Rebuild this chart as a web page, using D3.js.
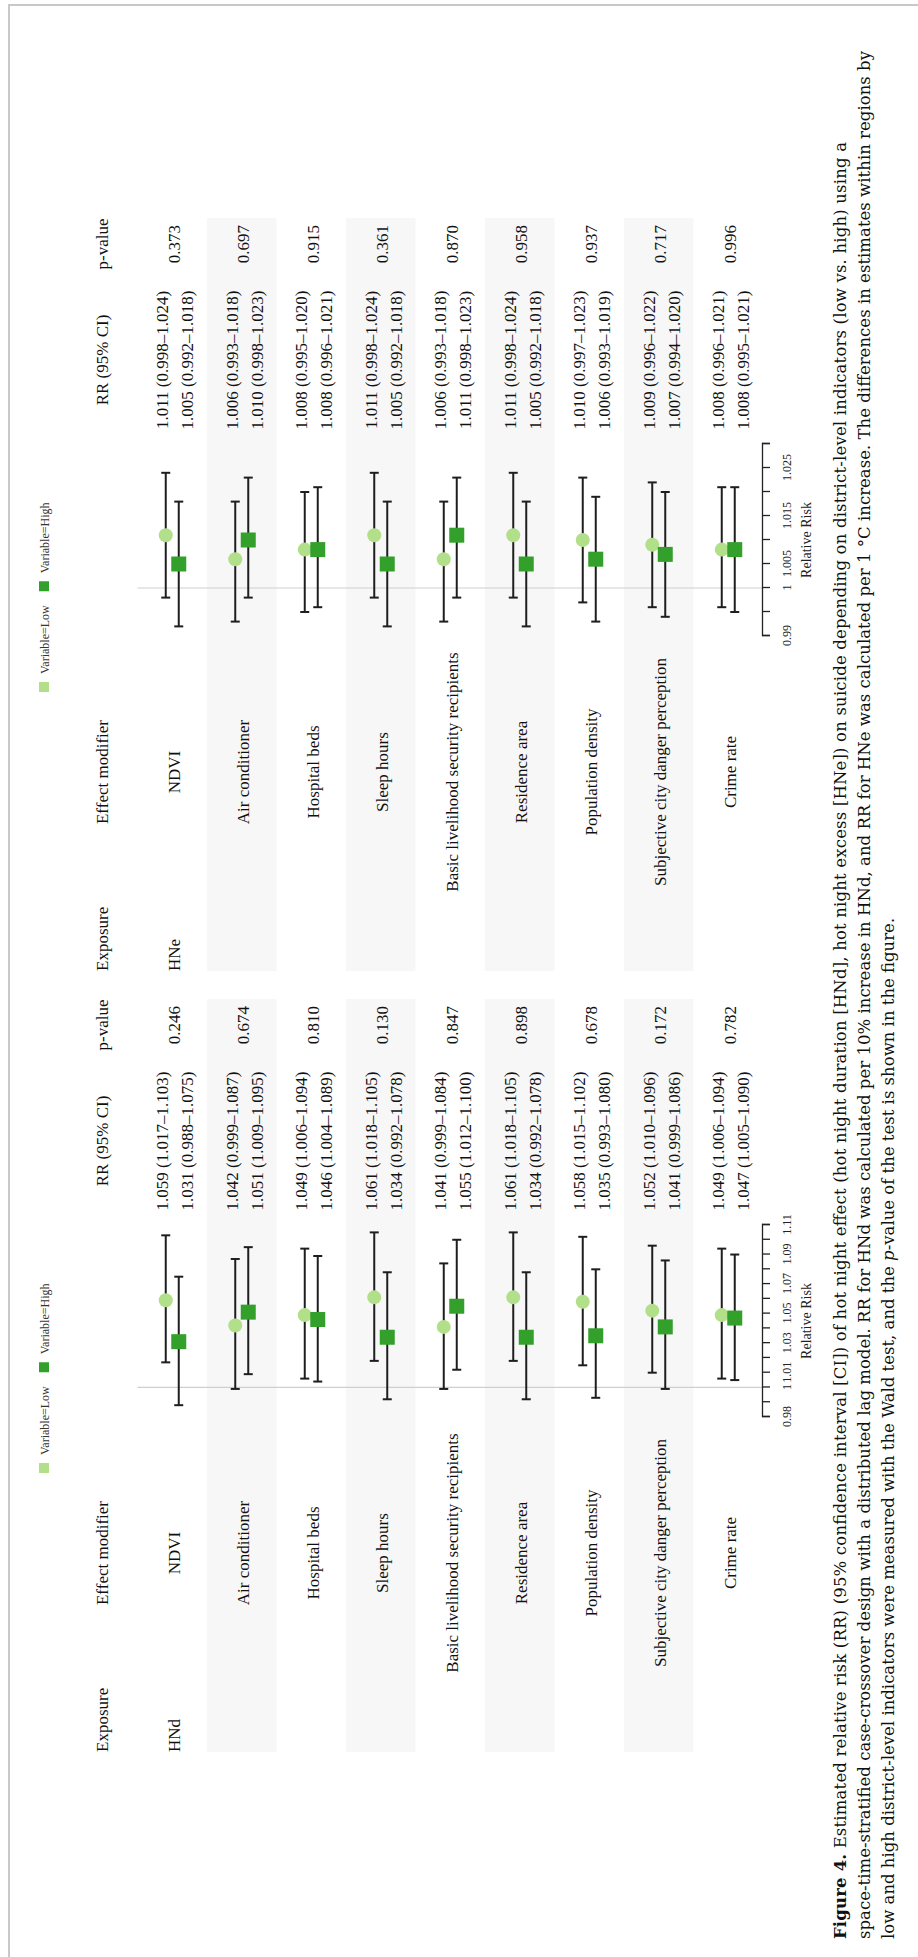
<!DOCTYPE html>
<html>
<head>
<meta charset="utf-8">
<script src="https://cdn.jsdelivr.net/npm/d3@7/dist/d3.min.js"></script>
<style>
  body { margin: 0; background: #fff; }
  svg { display: block; }
</style>
</head>
<body>
<svg id="fig"></svg>
<script>
// ---- data -------------------------------------------------------------
const modifiers = [
  "NDVI", "Air conditioner", "Hospital beds", "Sleep hours",
  "Basic livelihood security recipients", "Residence area",
  "Population density", "Subjective city danger perception", "Crime rate"
];
const seriesNames = ["Variable=Low", "Variable=High"];

// hot night duration (HNd)
const hndLowRR  = [1.059, 1.042, 1.049, 1.061, 1.041, 1.061, 1.058, 1.052, 1.049];
const hndLowLo  = [1.017, 0.999, 1.006, 1.018, 0.999, 1.018, 1.015, 1.010, 1.006];
const hndLowHi  = [1.103, 1.087, 1.094, 1.105, 1.084, 1.105, 1.102, 1.096, 1.094];
const hndHighRR = [1.031, 1.051, 1.046, 1.034, 1.055, 1.034, 1.035, 1.041, 1.047];
const hndHighLo = [0.988, 1.009, 1.004, 0.992, 1.012, 0.992, 0.993, 0.999, 1.005];
const hndHighHi = [1.075, 1.095, 1.089, 1.078, 1.100, 1.078, 1.080, 1.086, 1.090];
const hndP      = ["0.246", "0.674", "0.810", "0.130", "0.847", "0.898", "0.678", "0.172", "0.782"];
const hndDomain = [0.98, 1.11];
const hndTickMarks  = [0.98, 0.99, 1.00, 1.01, 1.02, 1.03, 1.04, 1.05, 1.06, 1.07, 1.08, 1.09, 1.10, 1.11];
const hndTickLabels = [0.98, 1, 1.01, 1.03, 1.05, 1.07, 1.09, 1.11];

// hot night excess (HNe)
const hneLowRR  = [1.011, 1.006, 1.008, 1.011, 1.006, 1.011, 1.010, 1.009, 1.008];
const hneLowLo  = [0.998, 0.993, 0.995, 0.998, 0.993, 0.998, 0.997, 0.996, 0.996];
const hneLowHi  = [1.024, 1.018, 1.020, 1.024, 1.018, 1.024, 1.023, 1.022, 1.021];
const hneHighRR = [1.005, 1.010, 1.008, 1.005, 1.011, 1.005, 1.006, 1.007, 1.008];
const hneHighLo = [0.992, 0.998, 0.996, 0.992, 0.998, 0.992, 0.993, 0.994, 0.995];
const hneHighHi = [1.018, 1.023, 1.021, 1.018, 1.023, 1.018, 1.019, 1.020, 1.021];
const hneP      = ["0.373", "0.697", "0.915", "0.361", "0.870", "0.958", "0.937", "0.717", "0.996"];
const hneDomain = [0.99, 1.03];
const hneTickMarks  = [0.99, 0.995, 1.00, 1.005, 1.01, 1.015, 1.02, 1.025, 1.03];
const hneTickLabels = [0.99, 1, 1.005, 1.015, 1.025];

const headers = ["Exposure", "Effect modifier", "RR (95% CI)", "p-value"];

const captionLines = [
  [{t: "Figure 4.", b: true}, {t: " Estimated relative risk (RR) (95% confidence interval [CI]) of hot night effect (hot night duration [HNd], hot night excess [HNe]) on suicide depending on district-level indicators (low vs. high) using a"}],
  [{t: "space-time-stratified case-crossover design with a distributed lag model. RR for HNd was calculated per 10% increase in HNd, and RR for HNe was calculated per 1 \u00B0C increase. The differences in estimates within regions by"}],
  [{t: "low and high district-level indicators were measured with the Wald test, and the "}, {t: "p", i: true}, {t: "-value of the test is shown in the figure."}]
];
// set widths of the first two caption lines (null = natural width)
const captionWidths = [1797, 1888, null];

// ---- layout -----------------------------------------------------------
const PAGE_W = 918, PAGE_H = 1957;
const SERIF = "'Liberation Serif', 'Times New Roman', serif";
const CAP_FONT = "'DejaVu Serif', serif";
const lowColor = "#b2df8a", highColor = "#33a02c";

const L = {
  panelOffset: 781,
  bandX0: 205, bandX1: 958,
  expoX: 205, modX: 404, plotX0: 540, plotX1: 732, rrX: 816, pX: 932,
  headerY: 108, legendY: 44,
  rowTop: 137.5, rowH: 69.5,
  axisY: 762
};

const svg = d3.select("#fig").attr("width", PAGE_W).attr("height", PAGE_H);
svg.append("rect").attr("width", PAGE_W).attr("height", PAGE_H).attr("fill", "#fff");

// outer frame
svg.append("path")
  .attr("d", `M9,${PAGE_H} V5 H${PAGE_W}`)
  .attr("fill", "none").attr("stroke", "#c8c8c8").attr("stroke-width", 2);

// the figure is laid out landscape and turned a quarter turn
const fig = svg.append("g").attr("transform", `translate(0,${PAGE_H}) rotate(-90)`);

const panels = [
  {name: "HNd", off: 0, domain: hndDomain, marks: hndTickMarks, labels: hndTickLabels,
   lowRR: hndLowRR, lowLo: hndLowLo, lowHi: hndLowHi,
   highRR: hndHighRR, highLo: hndHighLo, highHi: hndHighHi, p: hndP},
  {name: "HNe", off: L.panelOffset, domain: hneDomain, marks: hneTickMarks, labels: hneTickLabels,
   lowRR: hneLowRR, lowLo: hneLowLo, lowHi: hneLowHi,
   highRR: hneHighRR, highLo: hneHighLo, highHi: hneHighHi, p: hneP}
];

const fmt = d3.format(".3f");

panels.forEach(P => {
  const pg = fig.append("g").attr("transform", `translate(${P.off},0)`);
  const x = d3.scaleLinear().domain(P.domain).range([L.plotX0, L.plotX1]);
  const y = d3.scaleBand().domain(modifiers).range([L.rowTop, L.rowTop + modifiers.length * L.rowH]);
  const cy = m => y(m) + y.bandwidth() / 2;

  // zebra bands
  pg.selectAll("rect.band").data(modifiers.filter((m, i) => i % 2 === 1)).join("rect")
    .attr("x", L.bandX0).attr("width", L.bandX1 - L.bandX0)
    .attr("y", d => y(d)).attr("height", y.bandwidth())
    .attr("fill", "#f7f7f7");

  // reference line at RR = 1
  pg.append("line")
    .attr("x1", x(1)).attr("x2", x(1))
    .attr("y1", L.rowTop).attr("y2", L.axisY)
    .attr("stroke", "#cfcfcf").attr("stroke-width", 1.2);

  // column headers
  const hx = [L.expoX, L.modX, L.rrX, L.pX];
  const ha = ["start", "middle", "middle", "middle"];
  pg.selectAll("text.hdr").data(headers).join("text")
    .attr("x", (d, i) => hx[i]).attr("y", L.headerY)
    .attr("text-anchor", (d, i) => ha[i])
    .attr("font-family", SERIF).attr("font-size", 17).attr("fill", "#111")
    .text(d => d);

  // exposure name
  pg.append("text")
    .attr("x", L.expoX).attr("y", cy(modifiers[0]) + 7.5)
    .attr("font-family", SERIF).attr("font-size", 17).attr("fill", "#111")
    .text(P.name);

  const rows = modifiers.map((m, i) => ({
    m, i,
    low:  {rr: P.lowRR[i],  lo: P.lowLo[i],  hi: P.lowHi[i]},
    high: {rr: P.highRR[i], lo: P.highLo[i], hi: P.highHi[i]},
    p: P.p[i]
  }));

  const rg = pg.selectAll("g.row").data(rows).join("g").attr("class", "row");

  // effect modifier labels
  rg.append("text")
    .attr("x", L.modX).attr("y", d => cy(d.m) + 7.5)
    .attr("text-anchor", "middle")
    .attr("font-family", SERIF).attr("font-size", 17).attr("fill", "#111")
    .text(d => d.m);

  // RR (95% CI) text, two lines
  ["low", "high"].forEach((k, j) => {
    rg.append("text")
      .attr("x", L.rrX).attr("y", d => cy(d.m) + (j === 0 ? -4 : 21))
      .attr("text-anchor", "middle")
      .attr("font-family", SERIF).attr("font-size", 17).attr("fill", "#111")
      .text(d => `${fmt(d[k].rr)} (${fmt(d[k].lo)}\u2013${fmt(d[k].hi)})`);
  });

  // p-values
  rg.append("text")
    .attr("x", L.pX).attr("y", d => cy(d.m) + 7.5)
    .attr("text-anchor", "middle")
    .attr("font-family", SERIF).attr("font-size", 17).attr("fill", "#111")
    .text(d => d.p);

  // error bars and markers
  const cap = 4.5;
  ["low", "high"].forEach((k, j) => {
    const dy = j === 0 ? -6.5 : 6.5;
    const eb = rg.append("g").attr("stroke", "#1e1e1e").attr("stroke-width", 2).attr("fill", "none");
    eb.append("line")
      .attr("x1", d => x(d[k].lo)).attr("x2", d => x(d[k].hi))
      .attr("y1", d => cy(d.m) + dy).attr("y2", d => cy(d.m) + dy);
    eb.append("line")
      .attr("x1", d => x(d[k].lo)).attr("x2", d => x(d[k].lo))
      .attr("y1", d => cy(d.m) + dy - cap).attr("y2", d => cy(d.m) + dy + cap);
    eb.append("line")
      .attr("x1", d => x(d[k].hi)).attr("x2", d => x(d[k].hi))
      .attr("y1", d => cy(d.m) + dy - cap).attr("y2", d => cy(d.m) + dy + cap);
  });
  rg.append("circle")
    .attr("cx", d => x(d.low.rr)).attr("cy", d => cy(d.m) - 6.5)
    .attr("r", 7).attr("fill", lowColor);
  const sq = 15;
  rg.append("rect")
    .attr("x", d => x(d.high.rr) - sq / 2).attr("y", d => cy(d.m) + 6.5 - sq / 2)
    .attr("width", sq).attr("height", sq).attr("fill", highColor);

  // x axis
  const axis = d3.axisBottom(x)
    .tickValues(P.marks)
    .tickSize(8).tickSizeOuter(8).tickPadding(12)
    .tickFormat(v => P.labels.some(l => Math.abs(l - v) < 1e-9) ? d3.format("~g")(v) : "");
  const ag = pg.append("g").attr("transform", `translate(0,${L.axisY})`).call(axis);
  ag.selectAll("path, line").attr("stroke", "#222").attr("stroke-width", 1.3);
  ag.selectAll("text").attr("font-family", SERIF).attr("font-size", 12).attr("fill", "#222");
  pg.append("text")
    .attr("x", (L.plotX0 + L.plotX1) / 2).attr("y", L.axisY + 49)
    .attr("text-anchor", "middle")
    .attr("font-family", SERIF).attr("font-size", 14).attr("fill", "#222")
    .text("Relative Risk");

  // legend
  const lg = pg.append("g");
  let lx = 484;
  seriesNames.forEach((s, i) => {
    lg.append("rect").attr("x", lx).attr("y", L.legendY - 5).attr("width", 10).attr("height", 10)
      .attr("fill", i === 0 ? lowColor : highColor);
    const t = lg.append("text").attr("x", lx + 18).attr("y", L.legendY + 5)
      .attr("font-family", SERIF).attr("font-size", 12).attr("fill", "#333").text(s);
    lx += 18 + t.node().getComputedTextLength() + 14;
  });
});

// caption
const capG = fig.append("g").attr("font-family", CAP_FONT).attr("font-size", 16.5).attr("fill", "#111");
captionLines.forEach((line, i) => {
  const t = capG.append("text").attr("x", 18).attr("y", 846 + i * 24);
  if (captionWidths[i]) t.attr("textLength", captionWidths[i]).attr("lengthAdjust", "spacing");
  line.forEach(seg => {
    t.append("tspan")
      .attr("font-weight", seg.b ? "bold" : null)
      .attr("font-style", seg.i ? "italic" : null)
      .text(seg.t);
  });
});
</script>
</body>
</html>
